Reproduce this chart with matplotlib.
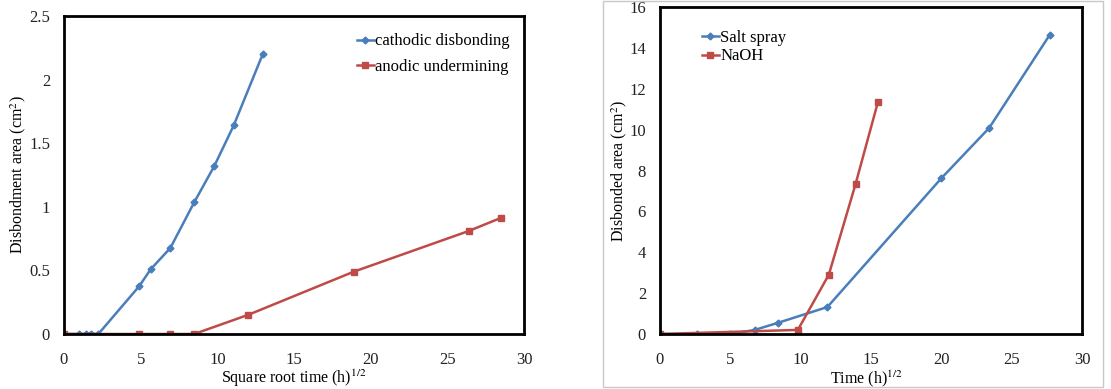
import matplotlib
matplotlib.use("Agg")
import matplotlib.pyplot as plt
from matplotlib.patches import Rectangle

# Left panel data
cath_x = [0, 1.0, 1.41, 1.73, 2.24, 4.9, 5.66, 6.93, 8.49, 9.8, 11.07, 12.96]
cath_y = [0, 0, 0, 0, 0, 0.375, 0.51, 0.675, 1.035, 1.32, 1.64, 2.20]
anod_x = [0, 4.9, 6.93, 8.49, 12.0, 18.9, 26.4, 28.5]
anod_y = [0, 0, 0, 0, 0.15, 0.49, 0.81, 0.913]

# Right panel data
salt_x = [0, 2.65, 5.0, 6.74, 8.4, 11.9, 20.0, 23.4, 27.7]
salt_y = [0, 0, 0, 0.2, 0.55, 1.32, 7.62, 10.08, 14.63]
naoh_x = [0, 9.8, 12.0, 13.9, 15.5]
naoh_y = [0, 0.2, 2.9, 7.33, 11.37]

left_xticks = [0, 5, 10, 15, 20, 25, 30]
left_yticks = [0, 0.5, 1, 1.5, 2, 2.5]
left_yticklabels = ["0", "0.5", "1", "1.5", "2", "2.5"]
right_xticks = [0, 5, 10, 15, 20, 25, 30]
right_yticks = [0, 2, 4, 6, 8, 10, 12, 14, 16]

BLUE = "#4A7EBB"
RED = "#BE4B48"

plt.rcParams["font.family"] = ["Liberation Serif", "DejaVu Serif"]
plt.rcParams["mathtext.fontset"] = "stix"

W, H = 1111, 389
fig = plt.figure(figsize=(W / 100, H / 100), dpi=100)

def ax_rect(x0, y0, x1, y1):
    return [x0 / W, 1 - y1 / H, (x1 - x0) / W, (y1 - y0) / H]

# Light gray frame around right panel
fig.patches.append(Rectangle((603 / W, 1 - 387 / H), (1103 - 603) / W, (387 - 1) / H,
                             transform=fig.transFigure, fill=False,
                             edgecolor="#c8c8c8", linewidth=1.0))

FS = 12
LFS = 11.5

ax1 = fig.add_axes(ax_rect(64, 16, 524, 334))
ax1.plot(cath_x, cath_y, color=BLUE, marker="D", markersize=3.5, linewidth=1.8,
         label="cathodic disbonding")
ax1.plot(anod_x, anod_y, color=RED, marker="s", markersize=5, linewidth=1.8,
         label="anodic undermining")
ax1.set_xlim(0, 30)
ax1.set_ylim(0, 2.5)
ax1.set_xticks(left_xticks)
ax1.set_yticks(left_yticks)
ax1.set_yticklabels(left_yticklabels)
ax1.set_xlabel("Square root time (h)$^{1/2}$", fontsize=LFS, va="center")
ax1.xaxis.set_label_coords(0.5, -0.138)
ax1.set_ylabel("Disbondment area (cm$^{2}$)", fontsize=LFS, va="center")
ax1.yaxis.set_label_coords(-0.099, 0.5)
ax1.legend(loc="upper left", frameon=False, fontsize=FS, handlelength=1.0,
           handletextpad=0.1, borderaxespad=0.0, borderpad=0.0, labelspacing=0.55,
           bbox_to_anchor=(0.637, 0.945))

ax2 = fig.add_axes(ax_rect(660, 7, 1082, 334))
ax2.plot(salt_x, salt_y, color=BLUE, marker="D", markersize=3.5, linewidth=1.8,
         label="Salt spray")
ax2.plot(naoh_x, naoh_y, color=RED, marker="s", markersize=5, linewidth=1.8,
         label="NaOH")
ax2.set_xlim(0, 30)
ax2.set_ylim(0, 16)
ax2.set_xticks(right_xticks)
ax2.set_yticks(right_yticks)
ax2.set_xlabel("Time (h)$^{1/2}$", fontsize=LFS, va="center")
ax2.xaxis.set_label_coords(0.49, -0.138)
ax2.set_ylabel("Disbonded area (cm$^{2}$)", fontsize=LFS, va="center")
ax2.yaxis.set_label_coords(-0.097, 0.5)
ax2.legend(loc="upper left", frameon=False, fontsize=FS, handlelength=1.0,
           handletextpad=0.1, borderaxespad=0.0, borderpad=0.0, labelspacing=0.15,
           bbox_to_anchor=(0.0995, 0.93))

for ax in (ax1, ax2):
    for s in ax.spines.values():
        s.set_linewidth(2.0)
        s.set_color("black")
    ax.tick_params(axis="x", length=0, labelsize=FS, pad=13, colors="#222222")
    ax.tick_params(axis="y", length=0, labelsize=FS, pad=10, colors="#222222")

fig.savefig("out.png", dpi=100)
